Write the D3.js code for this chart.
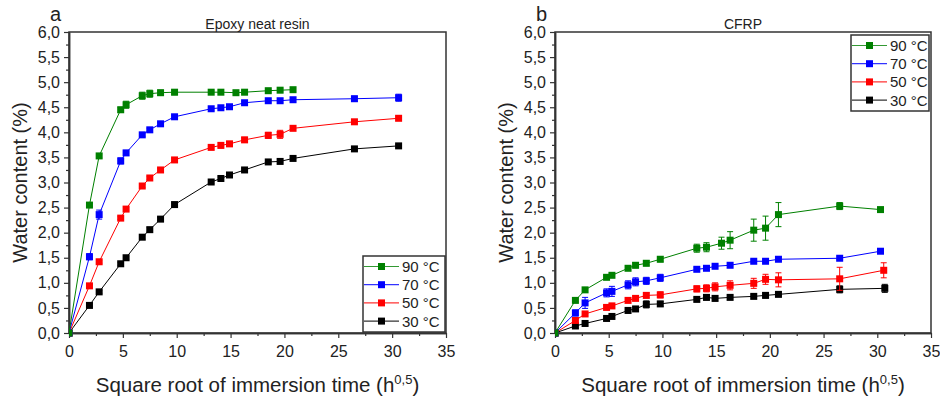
<!DOCTYPE html>
<html><head><meta charset="utf-8">
<script src="https://cdn.jsdelivr.net/npm/d3@7"></script>
<style>body{margin:0;background:#fff}svg{display:block;font-family:"Liberation Sans",Arial,sans-serif}</style>
</head><body><svg id="c" width="940" height="401"></svg>
<script>
// ---------- data ----------
const xTicks = [0,5,10,15,20,25,30,35];
const yTicks = [0,0.5,1,1.5,2,2.5,3,3.5,4,4.5,5,5.5,6];
const seriesNames = ["90 °C","70 °C","50 °C","30 °C"];
const seriesColors = ["#008000","#0000ff","#ff0000","#000000"];

// Panel a: Epoxy neat resin
const a90x = [0,1.9,2.8,4.8,5.3,6.8,7.5,8.5,9.8,13.2,14.1,15.5,16.3,18.5,19.6,20.8];
const a90y = [0,2.55,3.53,4.45,4.55,4.73,4.77,4.79,4.80,4.80,4.80,4.79,4.80,4.83,4.84,4.85];
const a90e = [0,0.03,0.04,0.05,0.07,0.07,0.07,0.05,0.05,0.03,0.03,0.03,0.03,0.03,0.03,0.03];
const aX = [0,1.9,2.8,4.8,5.3,6.8,7.5,8.5,9.8,13.2,14.1,14.9,16.3,18.5,19.6,20.8,26.5,30.6];
const a70y = [0,1.52,2.36,3.43,3.59,3.95,4.05,4.17,4.31,4.47,4.49,4.51,4.59,4.63,4.63,4.65,4.67,4.69];
const a70e = [0,0.06,0.09,0.06,0.05,0.03,0.03,0.03,0.03,0.03,0.03,0.03,0.03,0.03,0.04,0.04,0.05,0.07];
const a50y = [0,0.94,1.42,2.29,2.47,2.93,3.09,3.25,3.45,3.70,3.74,3.77,3.85,3.94,3.96,4.08,4.21,4.28];
const a50e = [0,0.03,0.03,0.03,0.03,0.03,0.03,0.03,0.03,0.04,0.05,0.05,0.05,0.06,0.08,0.03,0.03,0.03];
const a30y = [0,0.55,0.82,1.38,1.50,1.91,2.06,2.27,2.56,3.01,3.08,3.15,3.25,3.41,3.42,3.48,3.67,3.73];
const a30e = [0,0.03,0.03,0.03,0.03,0.04,0.04,0.03,0.03,0.03,0.03,0.03,0.03,0.03,0.03,0.03,0.03,0.03];

// Panel b: CFRP
const b90x = [0,1.9,2.8,4.8,5.3,6.8,7.5,8.5,9.8,13.2,14.1,15.5,16.3,18.5,19.6,20.8,26.5,30.3];
const b90y = [0,0.65,0.86,1.11,1.15,1.29,1.35,1.39,1.47,1.69,1.71,1.79,1.85,2.05,2.09,2.36,2.53,2.46];
const b90e = [0,0.03,0.04,0.04,0.03,0.04,0.05,0.05,0.05,0.08,0.09,0.12,0.17,0.22,0.24,0.24,0.07,0.02];
const b70x = [0,1.9,2.8,4.8,5.3,6.8,7.5,8.5,9.8,13.2,14.1,14.9,16.3,18.5,19.6,20.8,26.5,30.3];
const b70y = [0,0.40,0.60,0.80,0.83,0.96,1.02,1.04,1.10,1.27,1.29,1.33,1.35,1.43,1.43,1.47,1.49,1.63];
const b70e = [0,0.06,0.11,0.08,0.10,0.08,0.08,0.07,0.07,0.03,0.03,0.03,0.03,0.03,0.03,0.03,0.03,0.02];
const b50x = [0,1.9,2.8,4.8,5.3,6.8,7.5,8.5,9.8,13.2,14.1,14.9,16.3,18.5,19.6,20.8,26.5,30.6];
const b50y = [0,0.25,0.38,0.51,0.54,0.65,0.69,0.75,0.76,0.88,0.89,0.92,0.95,0.99,1.07,1.06,1.08,1.25];
const b50e = [0,0.04,0.04,0.04,0.05,0.04,0.04,0.05,0.06,0.06,0.07,0.08,0.09,0.10,0.10,0.14,0.23,0.15];
const b30x = [0,1.9,2.8,4.8,5.3,6.8,7.5,8.5,9.8,13.2,14.1,14.9,16.3,18.5,19.6,20.8,26.5,30.7];
const b30y = [0,0.14,0.19,0.29,0.33,0.45,0.48,0.57,0.58,0.67,0.71,0.69,0.71,0.73,0.75,0.77,0.87,0.89];
const b30e = [0,0.05,0.04,0.04,0.04,0.05,0.04,0.07,0.05,0.03,0.05,0.05,0.03,0.03,0.05,0.03,0.07,0.08];

// ---------- build ----------
const zip = (xs, ys, es) => xs.map((x,i)=>({x, y:ys[i], e:es[i]}));
const panels = [
  {letter:"a", title:"Epoxy neat resin", left:69, right:446, ylabX:20,
   legend:{x:363, y:256, w:82, h:76},
   series:[zip(a90x,a90y,a90e), zip(aX,a70y,a70e), zip(aX,a50y,a50e), zip(aX,a30y,a30e)]},
  {letter:"b", title:"CFRP", left:555, right:931, ylabX:506,
   legend:{x:851, y:35, w:78, h:76},
   series:[zip(b90x,b90y,b90e), zip(b70x,b70y,b70e), zip(b50x,b50y,b50e), zip(b30x,b30y,b30e)]}
];
const plotTop = 32, plotBottom = 333;
const svg = d3.select("#c");

panels.forEach(p => {
  const x = d3.scaleLinear().domain([0,35]).range([p.left, p.right]);
  const y = d3.scaleLinear().domain([0,6]).range([plotBottom, plotTop]);
  const g = svg.append("g");

  g.append("rect").attr("x",p.left).attr("y",plotTop).attr("width",p.right-p.left).attr("height",plotBottom-plotTop)
    .attr("fill","none").attr("stroke","#333").attr("stroke-width",1.5);

  const xa = g.append("g").attr("transform",`translate(0,${plotBottom})`)
    .call(d3.axisBottom(x).tickValues(xTicks).tickSize(5).tickSizeOuter(0).tickPadding(8).tickFormat(d3.format("d")));
  const xm = g.append("g").attr("transform",`translate(0,${plotBottom})`)
    .call(d3.axisBottom(x).tickValues(d3.range(2.5,35,5)).tickSize(3).tickSizeOuter(0).tickFormat(""));
  const ya = g.append("g").attr("transform",`translate(${p.left},0)`)
    .call(d3.axisLeft(y).tickValues(yTicks).tickSize(5).tickSizeOuter(0).tickPadding(4)
      .tickFormat(d => d3.format(".1f")(d).replace(".",",")));
  const ym = g.append("g").attr("transform",`translate(${p.left},0)`)
    .call(d3.axisLeft(y).tickValues(d3.range(0.25,6,0.5)).tickSize(3).tickSizeOuter(0).tickFormat(""));
  [xa,xm,ya,ym].forEach(a => {
    a.select(".domain").attr("stroke","#333").attr("stroke-width",1.5);
    a.selectAll(".tick line").attr("stroke","#333").attr("stroke-width",1.2);
    a.selectAll("text").attr("fill","#222").attr("font-size",16).attr("font-family","Liberation Sans, Arial, sans-serif");
  });

  g.append("text").attr("x",p.left-19).attr("y",21).attr("font-size",20).attr("fill","#222").text(p.letter);
  g.append("text").attr("x",(p.left+p.right)/2).attr("y",29).attr("text-anchor","middle")
    .attr("font-size",14).attr("fill","#222").text(p.title);
  g.append("text").attr("transform",`translate(${p.ylabX},${(plotTop+plotBottom)/2}) rotate(-90)`)
    .attr("text-anchor","middle").attr("dominant-baseline","central").attr("font-size",20).attr("fill","#222")
    .text("Water content (%)");
  const xl = g.append("text").attr("x",(p.left+p.right)/2).attr("y",392).attr("text-anchor","middle")
    .attr("font-size",20.5).attr("fill","#222");
  xl.append("tspan").text("Square root of immersion time (h");
  xl.append("tspan").attr("font-size",13).attr("dy",-8).text("0,5");
  xl.append("tspan").attr("dy",8).text(")");

  const line = d3.line().x(d=>x(d.x)).y(d=>y(d.y));
  const clipId = "clip"+p.letter;
  svg.append("clipPath").attr("id",clipId).append("rect")
    .attr("x",p.left).attr("y",plotTop).attr("width",p.right-p.left).attr("height",plotBottom-plotTop+6);
  p.series.slice().reverse().forEach((s, ri) => {
    const i = p.series.length-1-ri;
    const c = seriesColors[i];
    const sg = g.append("g").attr("clip-path",`url(#${clipId})`);
    sg.append("path").datum(s).attr("d",line).attr("fill","none").attr("stroke",c).attr("stroke-width",1);
    const eb = sg.selectAll(".eb").data(s.filter(d=>d.e>0)).join("g");
    eb.append("line").attr("x1",d=>x(d.x)).attr("x2",d=>x(d.x)).attr("y1",d=>y(d.y-d.e)).attr("y2",d=>y(d.y+d.e))
      .attr("stroke",c).attr("stroke-width",1);
    [-1,1].forEach(sgn => eb.append("line").attr("x1",d=>x(d.x)-3).attr("x2",d=>x(d.x)+3)
      .attr("y1",d=>y(d.y+sgn*d.e)).attr("y2",d=>y(d.y+sgn*d.e)).attr("stroke",c).attr("stroke-width",1));
    sg.selectAll(".m").data(s).join("rect").attr("x",d=>x(d.x)-3.5).attr("y",d=>y(d.y)-3.5)
      .attr("width",7).attr("height",7).attr("fill",c);
  });

  const L = p.legend;
  const lg = g.append("g");
  lg.append("rect").attr("x",L.x).attr("y",L.y).attr("width",L.w).attr("height",L.h)
    .attr("fill","#fff").attr("stroke","#333").attr("stroke-width",1.5);
  seriesNames.forEach((n,i) => {
    const yy = L.y + 10.5 + i*18.2;
    lg.append("line").attr("x1",L.x+1).attr("x2",L.x+36).attr("y1",yy).attr("y2",yy)
      .attr("stroke",seriesColors[i]).attr("stroke-width",1.2).attr("stroke-opacity",0.8);
    lg.append("rect").attr("x",L.x+18.5-3.5).attr("y",yy-3.5).attr("width",7).attr("height",7).attr("fill",seriesColors[i]);
    lg.append("text").attr("x",L.x+39).attr("y",yy).attr("dominant-baseline","central")
      .attr("font-size",15).attr("fill","#222").text(n);
  });
});
</script></body></html>
